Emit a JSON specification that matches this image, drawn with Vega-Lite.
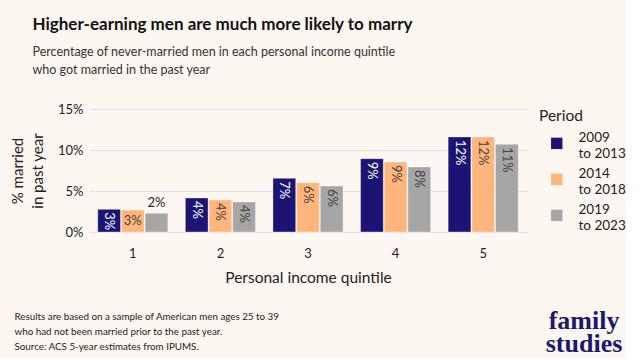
{
  "$schema": "https://vega.github.io/schema/vega-lite/v6.json",
  "background": "#fdf7f2",
  "padding": {"left": 10, "top": 15, "right": 0, "bottom": 0},
  "config": {
    "font": "Lato",
    "view": {"stroke": null},
    "concat": {"spacing": 0}
  },
  "resolve": {"legend": {"color": "independent"}},
  "title": {
    "text": "Higher-earning men are much more likely to marry",
    "subtitle": ["Percentage of never-married men in each personal income quintile", "who got married in the past year"],
    "anchor": "start",
    "frame": "bounds",
    "dx": 22,
    "font": "Lato",
    "fontSize": 17,
    "fontWeight": "bold",
    "color": "#111111",
    "subtitleFont": "Lato",
    "subtitleFontSize": 12.5,
    "subtitleColor": "#333333",
    "subtitlePadding": 12,
    "subtitleLineHeight": 18,
    "offset": 26
  },
  "data": {
    "values": [
      {"quintile": "1", "period": "2009 to 2013", "value": 0.0277},
      {"quintile": "1", "period": "2014 to 2018", "value": 0.0268},
      {"quintile": "1", "period": "2019 to 2023", "value": 0.0228},
      {"quintile": "2", "period": "2009 to 2013", "value": 0.0415},
      {"quintile": "2", "period": "2014 to 2018", "value": 0.039},
      {"quintile": "2", "period": "2019 to 2023", "value": 0.0366},
      {"quintile": "3", "period": "2009 to 2013", "value": 0.0655},
      {"quintile": "3", "period": "2014 to 2018", "value": 0.06},
      {"quintile": "3", "period": "2019 to 2023", "value": 0.056},
      {"quintile": "4", "period": "2009 to 2013", "value": 0.0894},
      {"quintile": "4", "period": "2014 to 2018", "value": 0.0854},
      {"quintile": "4", "period": "2019 to 2023", "value": 0.0793},
      {"quintile": "5", "period": "2009 to 2013", "value": 0.1159},
      {"quintile": "5", "period": "2014 to 2018", "value": 0.1159},
      {"quintile": "5", "period": "2019 to 2023", "value": 0.107}
    ]
  },
  "vconcat": [
    {
      "resolve": {"legend": {"color": "independent"}},
      "title": {
        "text": ["family", "studies"],
        "orient": "bottom",
        "anchor": "end",
        "frame": "bounds",
        "font": "Liberation Serif",
        "fontSize": 26,
        "fontWeight": "bold",
        "color": "#1b1870",
        "lineHeight": 23,
        "align": "center",
        "dx": -42,
        "dy": -43,
        "offset": 0
      },
      "vconcat": [
        {
          "width": 438,
          "height": 123,
          "title": {
            "text": ["Results are based on a sample of American men ages 25 to 39", "who had not been married prior to the past year.", "Source: ACS 5-year estimates from IPUMS."],
            "orient": "bottom",
            "anchor": "start",
            "frame": "bounds",
            "font": "Lato",
            "fontSize": 9.8,
            "fontWeight": "normal",
            "color": "#222222",
            "lineHeight": 15,
            "offset": 26,
            "dx": 4
          },
          "encoding": {
            "x": {
              "field": "quintile",
              "type": "nominal",
              "title": "Personal income quintile",
              "scale": {"paddingInner": 0.2, "paddingOuter": 0.1},
              "axis": {
                "labelAngle": 0,
                "labelFontSize": 13,
                "labelColor": "#222222",
                "labelPadding": 15,
                "titleFontSize": 15.5,
                "titleFontWeight": "normal",
                "titleColor": "#222222",
                "titlePadding": 10,
                "domain": false,
                "ticks": false
              }
            },
            "xOffset": {"field": "period", "type": "nominal", "scale": {"paddingInner": 0.04}},
            "y": {
              "field": "value",
              "type": "quantitative",
              "title": ["% married", "in past year"],
              "scale": {"domain": [0, 0.15]},
              "axis": {
                "format": ".0%",
                "values": [0, 0.05, 0.1, 0.15],
                "labelFontSize": 13,
                "labelColor": "#222222",
                "labelPadding": 6,
                "titleFontSize": 15,
                "titleFontWeight": "normal",
                "titleColor": "#222222",
                "titlePadding": 12,
                "titleLineHeight": 20,
                "domain": false,
                "ticks": false,
                "gridColor": "#dfe1ea",
                "gridWidth": 1
              }
            }
          },
          "layer": [
            {
              "mark": {"type": "bar", "strokeWidth": 1, "strokeOpacity": 0.35, "stroke": "#ffffff"},
              "encoding": {
                "color": {
                  "field": "period",
                  "type": "nominal",
                  "title": "Period",
                  "scale": {"range": ["#1b1472", "#ffb57b", "#a6a6a6"]},
                  "legend": {
                    "symbolType": "M-1,-0.1L1,-0.1L1,1.9L-1,1.9Z",
                    "symbolSize": 130,
                    "symbolStrokeWidth": 0,
                    "symbolOffset": 11,
                    "labelExpr": "[slice(datum.label, 0, 4), slice(datum.label, 5)]",
                    "labelFontSize": 13.5,
                    "labelColor": "#222222",
                    "labelLineHeight": 16.5,
                    "labelOffset": 15,
                    "titleFontSize": 15.5,
                    "titleFontWeight": "normal",
                    "titleColor": "#222222",
                    "titlePadding": 7,
                    "rowPadding": 6,
                    "offset": 12,
                    "padding": 0
                  }
                }
              }
            },
            {
              "transform": [{"filter": "!(datum.quintile == '1' && datum.period != '2009 to 2013')"}],
              "mark": {"type": "text", "angle": 90, "align": "left", "baseline": "middle", "dx": 3, "fontSize": 13},
              "encoding": {
                "text": {"field": "value", "type": "quantitative", "format": ".0%"},
                "color": {"condition": {"test": "datum.period == '2009 to 2013'", "value": "#ffffff"}, "value": "#444444"}
              }
            },
            {
              "transform": [{"filter": "datum.quintile == '1' && datum.period == '2014 to 2018'"}],
              "mark": {"type": "text", "align": "center", "baseline": "middle", "dy": 11, "fontSize": 13, "color": "#444444"},
              "encoding": {
                "text": {"field": "value", "type": "quantitative", "format": ".0%"}
              }
            },
            {
              "transform": [{"filter": "datum.quintile == '1' && datum.period == '2019 to 2023'"}],
              "mark": {"type": "text", "align": "center", "baseline": "bottom", "dy": -3, "fontSize": 13, "color": "#222222"},
              "encoding": {
                "text": {"field": "value", "type": "quantitative", "format": ".0%"}
              }
            }
          ]
        }
      ]
    }
  ]
}
